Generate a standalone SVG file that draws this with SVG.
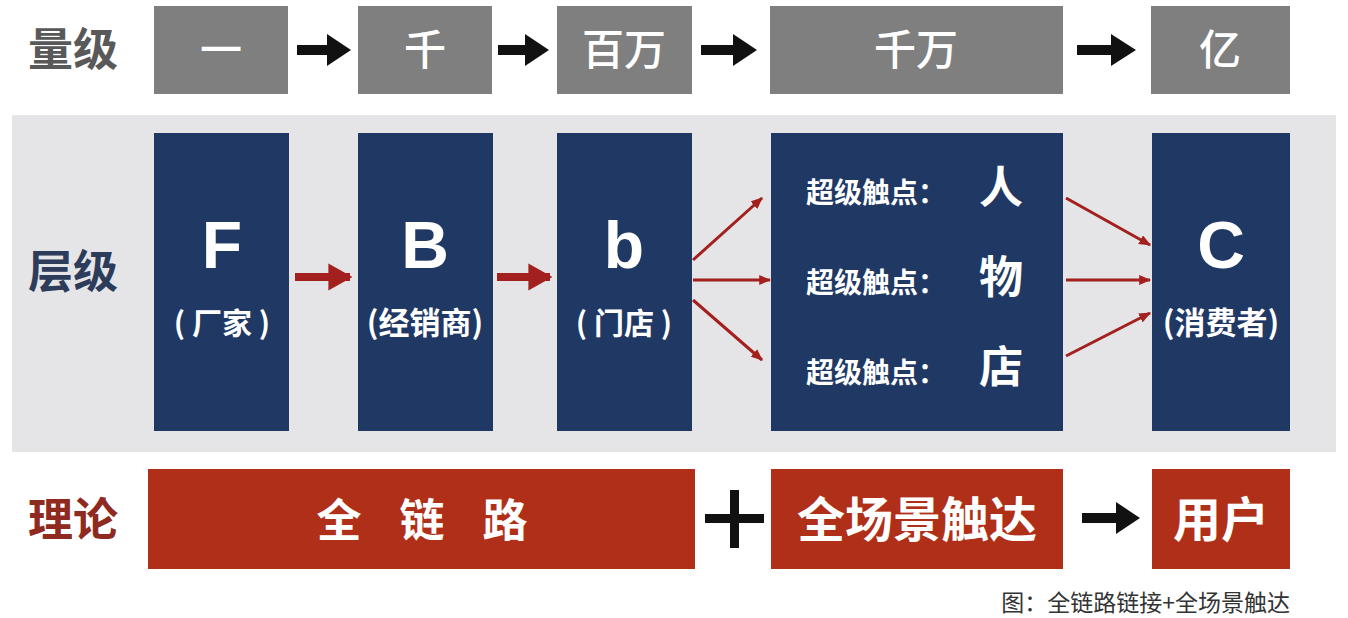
<svg xmlns="http://www.w3.org/2000/svg" width="1348" height="618" viewBox="0 0 1348 618">
<defs>
<style>
.cjk{font-family:"Noto Sans CJK SC","Noto Sans",sans-serif;font-weight:bold}
.lat{font-family:"Liberation Sans",Arial,sans-serif;font-weight:bold}
.gray{fill:#7f7f7f}
.blue{fill:#1f3864}
.red{fill:#b02f18}
.wt{fill:#ffffff}
.blk{fill:#111111}
.rarr{stroke:#a3201f;fill:none}
.top{font-weight:500}
</style>
<marker id="rh" viewBox="0 0 10 10" refX="9" refY="5" markerWidth="3" markerHeight="3.4" orient="auto" markerUnits="strokeWidth" preserveAspectRatio="none">
<path d="M0,0 L10,5 L0,10 z" fill="#a3201f"/>
</marker>
<marker id="rhs" viewBox="0 0 10 10" refX="9" refY="5" markerWidth="12" markerHeight="10" orient="auto" markerUnits="userSpaceOnUse" preserveAspectRatio="none">
<path d="M0,0 L10,5 L0,10 z" fill="#a3201f"/>
</marker>
</defs>
<rect x="0" y="0" width="1348" height="618" fill="#ffffff"/>
<rect x="12" y="115" width="1324" height="337" fill="#e5e5e7"/>

<g id="row-labels">
<text class="cjk" x="73" y="66" font-size="45" fill="#595959" text-anchor="middle">量级</text>
<text class="cjk" x="73" y="288" font-size="45" fill="#2e3c5c" text-anchor="middle">层级</text>
<text class="cjk" x="73" y="536" font-size="45" fill="#8e2a20" text-anchor="middle">理论</text>
</g>

<g id="scale-1"><rect class="gray" x="154" y="6" width="134" height="88"/><text class="cjk wt top" x="221" y="65" font-size="42" text-anchor="middle">一</text></g>
<g id="scale-2"><rect class="gray" x="358" y="6" width="134" height="88"/><text class="cjk wt top" x="425" y="65" font-size="42" text-anchor="middle">千</text></g>
<g id="scale-3"><rect class="gray" x="557" y="6" width="135" height="88"/><text class="cjk wt top" x="624" y="65" font-size="42" text-anchor="middle">百万</text></g>
<g id="scale-4"><rect class="gray" x="770" y="6" width="293" height="88"/><text class="cjk wt top" x="916" y="65" font-size="42" text-anchor="middle">千万</text></g>
<g id="scale-5"><rect class="gray" x="1151" y="6" width="139" height="88"/><text class="cjk wt top" x="1220" y="65" font-size="42" text-anchor="middle">亿</text></g>

<g id="node-F"><rect class="blue" x="154" y="133" width="135" height="298"/>
<text class="lat wt" x="222" y="268" font-size="66" text-anchor="middle">F</text>
<text class="cjk wt" x="222" y="334" font-size="30" text-anchor="middle" font-weight="500">( 厂家 )</text></g>
<g id="node-B"><rect class="blue" x="358" y="133" width="135" height="298"/>
<text class="lat wt" x="425" y="268" font-size="66" text-anchor="middle">B</text>
<text class="cjk wt" x="425" y="334" font-size="31" text-anchor="middle" font-weight="500">(经销商)</text></g>
<g id="node-b"><rect class="blue" x="557" y="133" width="135" height="298"/>
<text class="lat wt" x="624" y="268" font-size="66" text-anchor="middle">b</text>
<text class="cjk wt" x="624" y="334" font-size="30" text-anchor="middle" font-weight="500">( 门店 )</text></g>
<g id="node-touch"><rect class="blue" x="771" y="133" width="292" height="298"/>
<text class="cjk wt" x="806" y="203" font-size="28">超级触点：<tspan x="979" font-size="44">人</tspan></text>
<text class="cjk wt" x="806" y="293" font-size="28">超级触点：<tspan x="979" font-size="44">物</tspan></text>
<text class="cjk wt" x="806" y="383" font-size="28">超级触点：<tspan x="979" font-size="44">店</tspan></text></g>
<g id="node-C"><rect class="blue" x="1152" y="133" width="138" height="298"/>
<text class="lat wt" x="1221" y="268" font-size="66" text-anchor="middle">C</text>
<text class="cjk wt" x="1221" y="334" font-size="31" text-anchor="middle" font-weight="500">(消费者)</text></g>

<g id="theory-1"><rect class="red" x="148" y="469" width="547" height="100"/><text class="cjk wt" x="441" y="537" font-size="45" text-anchor="middle" letter-spacing="38">全链路</text></g>
<g id="theory-2"><rect class="red" x="771" y="469" width="292" height="100"/><text class="cjk wt" x="917" y="537" font-size="48" text-anchor="middle">全场景触达</text></g>
<g id="theory-3"><rect class="red" x="1152" y="469" width="138" height="100"/><text class="cjk wt" x="1221" y="537" font-size="48" text-anchor="middle">用户</text></g>

<g id="connectors">
<g class="blk">
<path d="M297,45 h30 v-11 l24,16 l-24,16 v-11 h-30 z"/>
<path d="M498,45 h27 v-11 l24,16 l-24,16 v-11 h-27 z"/>
<path d="M701,45 h32 v-11 l24,16 l-24,16 v-11 h-32 z"/>
<path d="M1077,45 h34 v-11 l25,16 l-25,16 v-11 h-34 z"/>
<path d="M1082,513 h34 v-11 l24,16 l-24,16 v-11 h-34 z"/>
<path d="M730,490 h9 v24 h25 v9 h-25 v25 h-9 v-25 h-25 v-9 h25 z"/>
</g>
<path class="rarr" d="M295,277 H350" stroke-width="8" marker-end="url(#rh)"/>
<path class="rarr" d="M497,277 H550" stroke-width="8" marker-end="url(#rh)"/>
<path class="rarr" d="M693,260 L762,198" stroke-width="3" marker-end="url(#rhs)"/>
<path class="rarr" d="M693,280 L770,280" stroke-width="3" marker-end="url(#rhs)"/>
<path class="rarr" d="M693,300 L762,360" stroke-width="3" marker-end="url(#rhs)"/>
<path class="rarr" d="M1066,198 L1150,245" stroke-width="3" marker-end="url(#rhs)"/>
<path class="rarr" d="M1066,280 L1150,280" stroke-width="3" marker-end="url(#rhs)"/>
<path class="rarr" d="M1066,356 L1150,313" stroke-width="3" marker-end="url(#rhs)"/>
</g>

<text class="cjk" x="1290" y="611" font-size="23" fill="#333333" text-anchor="end" style="font-weight:normal">图：全链路链接+全场景触达</text>
</svg>
